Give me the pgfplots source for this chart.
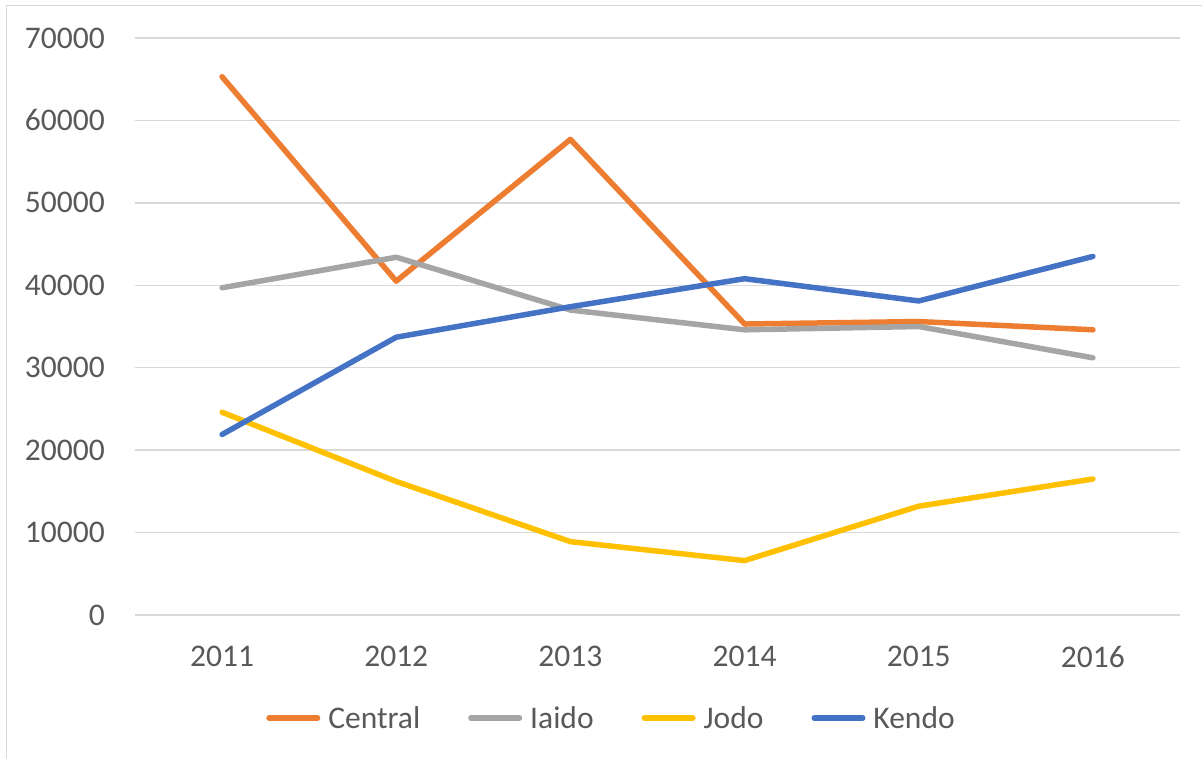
\documentclass[border=0pt]{standalone}
\usepackage{pgfplots}
\pgfplotsset{compat=1.18}
\usepackage{fontspec}
\setmainfont{Carlito}
\definecolor{txtgray}{HTML}{595959}
\definecolor{gridgray}{HTML}{D9D9D9}
\definecolor{cCentral}{HTML}{ED7D31}
\definecolor{cIaido}{HTML}{A5A5A5}
\definecolor{cJodo}{HTML}{FFC000}
\definecolor{cKendo}{HTML}{4472C4}
\begin{document}
\begin{tikzpicture}
\begin{axis}[
  scale only axis,
  width=1045pt, height=577pt,
  xmin=-0.5, xmax=5.5,
  ymin=0, ymax=70000,
  xtick={0,1,2,3,4,5},
  xticklabels={2011,2012,2013,2014,2015,2016},
  ytick={0,10000,...,70000},
  scaled y ticks=false,
  /pgf/number format/assume math mode=true,
  yticklabel={\pgfmathprintnumber[fixed,1000 sep={}]{\tick}},
  axis line style={draw=none},
  major tick length=0pt,
  ymajorgrids,
  grid style={gridgray, line width=1.3pt},
  tick label style={font=\fontsize{31.5pt}{37pt}\selectfont, text=txtgray},
  yticklabel style={anchor=east, inner sep=0pt, xshift=-30pt},
  xticklabel style={anchor=north, inner sep=0pt, yshift=-31pt},
  every axis plot/.append style={line width=5.5pt, line join=round, line cap=round},
  legend columns=4,
  legend style={
    at={(0.455,-0.1785)}, anchor=center, draw=none, fill=none,
    font=\fontsize{31.5pt}{37pt}\selectfont, text=txtgray,
    nodes={inner sep=0pt},
    /tikz/every odd column/.append style={column sep=8pt},
    /tikz/every even column/.append style={column sep=48pt},
  },
  legend image code/.code={\draw[#1, line width=5.5pt, line cap=round] (2.75pt,0pt) -- (51.25pt,0pt);},
]
\addplot[cCentral] coordinates {(0,65300) (1,40500) (2,57700) (3,35300) (4,35600) (5,34600)};
\addlegendentry{Central}
\addplot[cIaido] coordinates {(0,39700) (1,43400) (2,37000) (3,34600) (4,35000) (5,31200)};
\addlegendentry{Iaido}
\addplot[cJodo] coordinates {(0,24600) (1,16200) (2,8900) (3,6600) (4,13200) (5,16500)};
\addlegendentry{Jodo}
\addplot[cKendo] coordinates {(0,21900) (1,33700) (2,37400) (3,40800) (4,38100) (5,43500)};
\addlegendentry{Kendo}
\end{axis}
\useasboundingbox ([xshift=-135pt,yshift=-144pt]current axis.south west) rectangle ([xshift=22pt,yshift=38pt]current axis.north east);
\draw[gridgray, line width=1.3pt] ([xshift=-128.3pt,yshift=-144pt]current axis.south west) -- ([xshift=-128.3pt,yshift=32.7pt]current axis.north west) -- ([xshift=22pt,yshift=32.7pt]current axis.north east);
\end{tikzpicture}
\end{document}
